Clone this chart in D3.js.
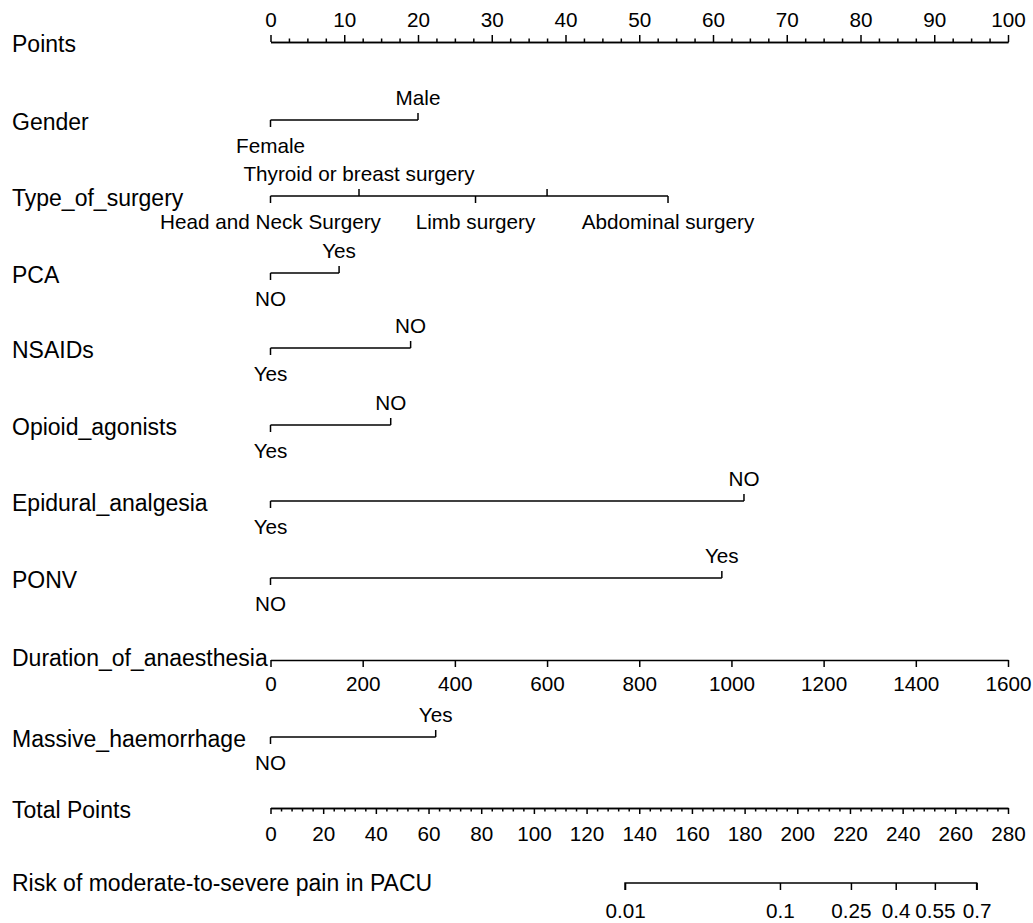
<!DOCTYPE html>
<html>
<head>
<meta charset="utf-8">
<script src="https://cdn.jsdelivr.net/npm/d3@7"></script>
<style>
  body { margin: 0; background: #fff; }
  text { font-family: "Liberation Sans", Arial, sans-serif; fill: #000; }
</style>
</head>
<body>
<svg id="chart" width="1033" height="923"></svg>
<script>
// nomogram values
const pointTicks = [0, 10, 20, 30, 40, 50, 60, 70, 80, 90, 100];
const pointMinor = [2.5, 5, 7.5, 12.5, 15, 17.5, 22.5, 25, 27.5, 32.5, 35, 37.5, 42.5, 45, 47.5,
  52.5, 55, 57.5, 62.5, 65, 67.5, 72.5, 75, 77.5, 82.5, 85, 87.5, 92.5, 95, 97.5];

const genderLevels = ['Female', 'Male'];
const genderPoints = [0, 20];
const surgeryLevels = ['Head and Neck Surgery', 'Thyroid or breast surgery', 'Limb surgery', '', 'Abdominal surgery'];
const surgeryPoints = [0, 12, 27.8, 37.5, 53.9];
const pcaLevels = ['NO', 'Yes'];
const pcaPoints = [0, 9.3];
const nsaidLevels = ['Yes', 'NO'];
const nsaidPoints = [0, 19];
const opioidLevels = ['Yes', 'NO'];
const opioidPoints = [0, 16.3];
const epiduralLevels = ['Yes', 'NO'];
const epiduralPoints = [0, 64.2];
const ponvLevels = ['NO', 'Yes'];
const ponvPoints = [0, 61.2];
const durationTicks = [0, 200, 400, 600, 800, 1000, 1200, 1400, 1600];
const durationMaxPoints = 100;
const haemLevels = ['NO', 'Yes'];
const haemPoints = [0, 22.4];

const totalTicks = [0, 20, 40, 60, 80, 100, 120, 140, 160, 180, 200, 220, 240, 260, 280];
const totalMinorStep = 4;
const riskTicks = [0.01, 0.1, 0.25, 0.4, 0.55, 0.7];
const riskLabels = ['0.01', '0.1', '0.25', '0.4', '0.55', '0.7'];
// linear predictor = lpIntercept + lpSlope * total points
const lpIntercept = -10.083;
const lpSlope = 0.04077;

const svg = d3.select('#chart');
const nameSize = 23;
const tickFont = 20.7;
const labelX = 12;

const pointsX = d3.scaleLinear().domain([0, 100]).range([270.5, 1008]);
const durationX = d3.scaleLinear()
  .domain([0, 1600])
  .range([pointsX(0), pointsX(durationMaxPoints)]);
const totalX = d3.scaleLinear().domain([0, 280]).range([270.5, 1008]);
const lp = t => lpIntercept + lpSlope * t;
const logit = p => Math.log(p / (1 - p));
const riskX = d3.scaleLinear().domain([lp(0), lp(280)]).range(totalX.range());

function styleAxis(g) {
  g.attr('font-size', null).attr('font-family', null);
  g.selectAll('path, line').attr('stroke', '#000').attr('stroke-width', 1.5);
  g.selectAll('text').attr('font-size', tickFont);
}

function rowName(y, txt) {
  svg.append('text')
    .attr('x', labelX)
    .attr('y', y + 2)
    .attr('dy', '0.35em')
    .attr('font-size', nameSize)
    .text(txt);
}

// Points
rowName(42, 'Points');
svg.append('g')
  .attr('transform', 'translate(0,42)')
  .call(d3.axisTop(pointsX).tickValues(pointTicks).tickSize(7).tickSizeOuter(0).tickPadding(8))
  .call(styleAxis);
svg.append('g')
  .attr('transform', 'translate(0,42)')
  .call(d3.axisTop(pointsX).tickValues(pointMinor).tickSize(3.5).tickSizeOuter(0).tickFormat(''))
  .call(styleAxis);

// categorical rows
function catRow(y, name, levels, pts) {
  rowName(y, name);
  const items = levels.map((l, i) => ({ label: l, p: pts[i] }))
    .sort((a, b) => a.p - b.p);
  const g = svg.append('g');
  g.append('line')
    .attr('x1', pointsX(d3.min(pts)))
    .attr('x2', pointsX(d3.max(pts)))
    .attr('y1', y).attr('y2', y)
    .attr('stroke', '#000').attr('stroke-width', 1.5);
  g.selectAll('line.tk')
    .data(items)
    .join('line')
    .attr('class', 'tk')
    .attr('x1', d => pointsX(d.p))
    .attr('x2', d => pointsX(d.p))
    .attr('y1', y)
    .attr('y2', (d, i) => i % 2 === 0 ? y + 7 : y - 7)
    .attr('stroke', '#000').attr('stroke-width', 1.5);
  g.selectAll('text.lb')
    .data(items)
    .join('text')
    .attr('class', 'lb')
    .attr('x', d => pointsX(d.p))
    .attr('y', (d, i) => i % 2 === 0 ? y + 33 : y - 15)
    .attr('text-anchor', 'middle')
    .attr('font-size', tickFont)
    .text(d => d.label);
}

catRow(120, 'Gender', genderLevels, genderPoints);
catRow(196, 'Type_of_surgery', surgeryLevels, surgeryPoints);
catRow(273, 'PCA', pcaLevels, pcaPoints);
catRow(348, 'NSAIDs', nsaidLevels, nsaidPoints);
catRow(425, 'Opioid_agonists', opioidLevels, opioidPoints);
catRow(501, 'Epidural_analgesia', epiduralLevels, epiduralPoints);
catRow(578, 'PONV', ponvLevels, ponvPoints);

// Duration (continuous)
rowName(656, 'Duration_of_anaesthesia');
svg.append('g')
  .attr('transform', 'translate(0,660)')
  .call(d3.axisBottom(durationX).tickValues(durationTicks).tickFormat(d3.format('d'))
    .tickSize(7).tickSizeOuter(0).tickPadding(9))
  .call(styleAxis);

catRow(737, 'Massive_haemorrhage', haemLevels, haemPoints);

// Total Points
rowName(808, 'Total Points');
const totalMinor = d3.range(0, 281, totalMinorStep).filter(v => !totalTicks.includes(v));
svg.append('g')
  .attr('transform', 'translate(0,808)')
  .call(d3.axisBottom(totalX).tickValues(totalTicks).tickSize(6).tickSizeOuter(0).tickPadding(12))
  .call(styleAxis);
svg.append('g')
  .attr('transform', 'translate(0,808)')
  .call(d3.axisBottom(totalX).tickValues(totalMinor).tickSize(3.5).tickSizeOuter(0).tickFormat(''))
  .call(styleAxis);

// Risk
rowName(881, 'Risk of moderate-to-severe pain in PACU');
const riskAxis = d3.axisBottom(riskX)
  .tickValues(riskTicks.map(logit))
  .tickFormat((d, i) => riskLabels[i])
  .tickSize(7).tickSizeOuter(0).tickPadding(13);
const rg = svg.append('g')
  .attr('transform', 'translate(0,883)')
  .call(riskAxis)
  .call(styleAxis);
// domain only spans the tick range
rg.select('.domain')
  .attr('d', `M${riskX(logit(riskTicks[0]))},7V0H${riskX(logit(riskTicks[riskTicks.length - 1]))}V7`);
</script>
</body>
</html>
